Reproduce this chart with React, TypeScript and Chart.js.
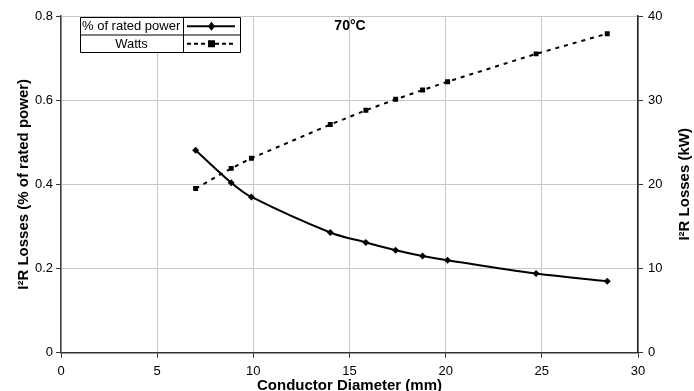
import React, { useEffect, useRef } from "react";
import { Chart, registerables } from "chart.js";

Chart.register(...registerables);

const diameters = [7.0, 8.85, 9.9, 14.0, 15.85, 17.4, 18.8, 20.1, 24.7, 28.4];
const percentLoss = [0.481, 0.404, 0.37, 0.2855, 0.262, 0.2435, 0.23, 0.2197, 0.188, 0.17];
const wattsLoss = [19.5, 21.9, 23.1, 27.1, 28.8, 30.1, 31.2, 32.2, 35.5, 37.9];
const seriesNames = ["% of rated power", "Watts"];
const titleText = "70°C";
const xTitle = "Conductor Diameter (mm)";
const yTitle = "I²R Losses (% of rated power)";
const y1Title = "I²R Losses (kW)";

const FONT = "'Liberation Sans', Arial, sans-serif";

const overlayPlugin = {
  id: "overlay",
  afterDraw(chart: any) {
    const ctx = chart.ctx as CanvasRenderingContext2D;
    const area = chart.chartArea;
    ctx.save();
    // title
    ctx.fillStyle = "#000";
    ctx.font = `bold 14px ${FONT}`;
    ctx.textAlign = "center";
    ctx.textBaseline = "middle";
    ctx.fillText(titleText, 350, 26);
    // right axis title (reads bottom to top)
    ctx.save();
    ctx.translate(685, (area.top + area.bottom) / 2);
    ctx.rotate(-Math.PI / 2);
    ctx.font = `bold 15px ${FONT}`;
    ctx.fillText(y1Title, 0, 0);
    ctx.restore();
    // legend table
    const x0 = 80, x1 = 183, x2 = 240;
    const y0 = 17, ym = 34.5, y1 = 52;
    ctx.fillStyle = "#fff";
    ctx.fillRect(x0, y0, x2 - x0, y1 - y0);
    ctx.strokeStyle = "#000";
    ctx.lineWidth = 1;
    ctx.beginPath();
    ctx.rect(x0 + 0.5, y0 + 0.5, x2 - x0, y1 - y0);
    ctx.moveTo(x1 + 0.5, y0);
    ctx.lineTo(x1 + 0.5, y1);
    ctx.moveTo(x0, ym + 0.5);
    ctx.lineTo(x2, ym + 0.5);
    ctx.stroke();
    ctx.font = `13px ${FONT}`;
    ctx.fillStyle = "#000";
    ctx.textAlign = "left";
    ctx.fillText(seriesNames[0], x0 + 2, (y0 + ym) / 2 + 1);
    ctx.textAlign = "center";
    ctx.fillText(seriesNames[1], (x0 + x1) / 2, (ym + y1) / 2 + 1);
    // symbols
    const sx0 = 187, sx1 = 235, sc = 211.5;
    const r1 = (y0 + ym) / 2 + 0.5, r2 = (ym + y1) / 2 + 0.5;
    ctx.lineWidth = 2;
    ctx.beginPath();
    ctx.moveTo(sx0, r1);
    ctx.lineTo(sx1, r1);
    ctx.stroke();
    ctx.beginPath();
    ctx.moveTo(sc, r1 - 4.5);
    ctx.lineTo(sc + 3.5, r1);
    ctx.lineTo(sc, r1 + 4.5);
    ctx.lineTo(sc - 3.5, r1);
    ctx.closePath();
    ctx.fill();
    ctx.setLineDash([4, 3]);
    ctx.beginPath();
    ctx.moveTo(sx0, r2);
    ctx.lineTo(sx1, r2);
    ctx.stroke();
    ctx.setLineDash([]);
    ctx.fillRect(sc - 3.5, r2 - 3.5, 7, 7);
    ctx.restore();
  },
};

export default function App() {
  const ref = useRef<HTMLCanvasElement>(null);
  useEffect(() => {
    if (!ref.current) return;
    const chart = new Chart(ref.current, {
      type: "line",
      data: {
        datasets: [
          {
            label: seriesNames[0],
            data: diameters.map((d, i) => ({ x: d, y: percentLoss[i] })),
            borderColor: "#000",
            backgroundColor: "#000",
            borderWidth: 2,
            pointStyle: "rectRot",
            pointRadius: 3.5,
            pointBorderWidth: 0,
            tension: 0.35,
            yAxisID: "y",
          },
          {
            label: seriesNames[1],
            data: diameters.map((d, i) => ({ x: d, y: wattsLoss[i] })),
            borderColor: "#000",
            backgroundColor: "#000",
            borderWidth: 2,
            borderDash: [4, 5],
            pointStyle: "rect",
            pointRadius: 3.5,
            pointBorderWidth: 0,
            tension: 0,
            yAxisID: "y1",
          },
        ],
      },
      options: {
        animation: false,
        responsive: true,
        maintainAspectRatio: false,
        layout: { padding: { top: 16, left: 0, right: 0, bottom: 0 } },
        plugins: { legend: { display: false }, tooltip: { enabled: false } },
        scales: {
          x: {
            type: "linear",
            min: 0,
            max: 30,
            ticks: { stepSize: 5, color: "#000", font: { family: FONT, size: 13 }, padding: 6 },
            grid: { color: "#c8c8c8", tickColor: "#333", tickLength: 5, lineWidth: 1 },
            border: { color: "#333", width: 1.5 },
            title: {
              display: true,
              text: xTitle,
              color: "#000",
              font: { family: FONT, size: 15, weight: "bold" },
              padding: { top: 0, bottom: -4 },
            },
            afterFit: (s: any) => {
              s.height = 38.3;
            },
          },
          y: {
            position: "left",
            min: 0,
            max: 0.8,
            ticks: {
              stepSize: 0.2,
              color: "#000",
              font: { family: FONT, size: 13 },
              padding: 3,
              callback: (v: any) => (v === 0 ? "0" : Number(v).toFixed(1)),
            },
            grid: { color: "#c8c8c8", tickColor: "#333", tickLength: 5 },
            border: { color: "#444", width: 1.5 },
            title: {
              display: true,
              text: yTitle,
              color: "#000",
              font: { family: FONT, size: 15, weight: "bold" },
              padding: { top: 15, bottom: 0 },
            },
            afterFit: (s: any) => {
              s.width = 61;
            },
          },
          y1: {
            position: "right",
            min: 0,
            max: 40,
            ticks: { stepSize: 10, color: "#000", font: { family: FONT, size: 13 }, padding: 5 },
            grid: { drawOnChartArea: false, tickColor: "#333", tickLength: 5 },
            border: { color: "#222", width: 1.5 },
            title: { display: false },
            afterFit: (s: any) => {
              s.width = 56;
            },
          },
        },
      },
      plugins: [overlayPlugin],
    });
    return () => chart.destroy();
  }, []);
  return (
    <div style={{ position: "fixed", left: 0, top: 0, width: 694, height: 391, background: "#fff" }}>
      <canvas ref={ref} />
    </div>
  );
}
